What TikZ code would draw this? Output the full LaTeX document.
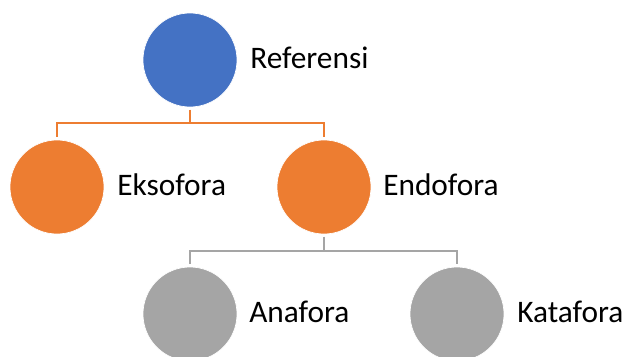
\documentclass[tikz,border=0pt]{standalone}
\usepackage{fontspec}
\setmainfont{Carlito}
\definecolor{cblue}{HTML}{4472C4}
\definecolor{corange}{HTML}{ED7D31}
\definecolor{cgray}{HTML}{A5A5A5}
\begin{document}
\begin{tikzpicture}[x=0.75pt,y=-0.75pt,
  dot/.style={circle,minimum size=70.5pt,inner sep=0pt,outer sep=2pt,draw=white,line width=0.5pt},
  lbl/.style={anchor=base west,inner sep=0pt,font=\fontsize{23.5}{28}\selectfont},
  conn/.style={line width=1.9pt}]
\useasboundingbox (0,0) rectangle (625,357);
\node[dot,fill=cblue] (ref) at (190,60) {};
\node[dot,fill=corange] (eks) at (57,187) {};
\node[dot,fill=corange] (endo) at (324,187) {};
\node[dot,fill=cgray] (ana) at (190,314) {};
\node[dot,fill=cgray] (kata) at (457,314) {};
\node[lbl] (tref) at (250,68.5) {Referensi};
\node[lbl] (teks) at (117,195.5) {Eksofora};
\node[lbl] (tendo) at (383,195.5) {Endofora};
\node[lbl] (tana) at (249,322.5) {Anafora};
\node[lbl] (tkata) at (517,322.5) {Katafora};
\coordinate (j1) at (190,123);
\coordinate (j2) at (324,251);
\draw[conn,draw=corange] (ref.south) -- (j1) -| (eks.north);
\draw[conn,draw=corange] (j1) -| (endo.north);
\draw[conn,draw=cgray] (endo.south) -- (j2) -| (ana.north);
\draw[conn,draw=cgray] (j2) -| (kata.north);
\end{tikzpicture}
\end{document}
